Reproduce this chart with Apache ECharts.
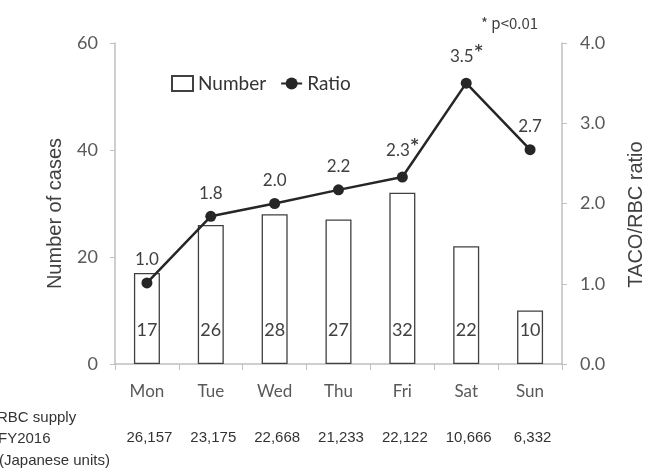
<!DOCTYPE html>
<html>
<head>
<meta charset="utf-8">
<script src="https://cdn.jsdelivr.net/npm/echarts@6/dist/echarts.min.js"></script>
<style>
  html, body { margin: 0; padding: 0; background: #fff; }
  #chart { width: 647px; height: 472px; }
</style>
</head>
<body>
<div id="chart"></div>
<script>
const days = ["Mon", "Tue", "Wed", "Thu", "Fri", "Sat", "Sun"];
const cases = [17, 26, 28, 27, 32, 22, 10];
const ratio = [1.01, 1.84, 2.0, 2.17, 2.33, 3.5, 2.67];
const ratioLabels = ["1.0", "1.8", "2.0", "2.2", "2.3", "3.5", "2.7"];
const significant = [false, false, false, false, true, true, false];
const supply = ["26,157", "23,175", "22,668", "21,233", "22,122", "10,666", "6,332"];
const leftTicks = [0, 20, 40, 60];
const rightTicks = [0, 1, 2, 3, 4];

const chart = echarts.init(document.getElementById("chart"));
const gray = "#bfbfbf";
const textColor = "#595959";

const option = {
  animation: false,
  backgroundColor: "#fff",
  grid: { left: 115, right: 85, top: 43, bottom: 108, outerBoundsMode: "none" },
  legend: {
    left: 166,
    top: 69,
    itemWidth: 21,
    itemHeight: 15,
    itemGap: 14,
    textStyle: { fontFamily: "Lato", fontSize: 19, color: "#333" },
    data: [{ name: "Number", icon: "rect" }, "Ratio"]
  },
  xAxis: [
    {
      type: "category",
      data: days,
      axisLine: { lineStyle: { color: gray, width: 1.5 } },
      axisTick: { show: true, length: 6, lineStyle: { color: gray } },
      axisLabel: { color: textColor, fontFamily: "Lato", fontSize: 17, margin: 19 }
    },
    {
      type: "category",
      data: supply,
      position: "bottom",
      offset: 66,
      axisLine: { show: false },
      axisTick: { show: false },
      axisLabel: { color: "#333", fontFamily: "Liberation Sans", fontSize: 15, margin: 0,
        padding: [0, 0, 0, 5] }
    }
  ],
  yAxis: [
    {
      type: "value",
      min: leftTicks[0],
      max: leftTicks[leftTicks.length - 1],
      interval: 20,
      name: "Number of cases",
      nameLocation: "middle",
      nameGap: 50,
      nameTextStyle: { fontFamily: "Liberation Sans", fontSize: 20, color: "#404040",
        padding: [0, 20, 0, 0] },
      splitLine: { show: false },
      axisLine: { show: true, lineStyle: { color: gray, width: 1.5 } },
      axisTick: { show: true, length: 5, lineStyle: { color: gray } },
      axisLabel: { color: textColor, fontFamily: "Lato", fontSize: 18, margin: 17 }
    },
    {
      type: "value",
      min: rightTicks[0],
      max: rightTicks[rightTicks.length - 1],
      interval: 1,
      name: "TACO/RBC ratio",
      nameLocation: "middle",
      nameGap: 64,
      nameRotate: 90,
      nameTextStyle: { fontFamily: "Liberation Sans", fontSize: 20, color: "#404040",
        padding: [0, 22, 0, 0] },
      splitLine: { show: false },
      axisLine: { show: true, lineStyle: { color: gray, width: 1.5 } },
      axisTick: { show: true, length: 5, lineStyle: { color: gray } },
      axisLabel: {
        color: textColor, fontFamily: "Lato", fontSize: 18, margin: 18,
        formatter: (v) => v.toFixed(1)
      }
    }
  ],
  series: [
    {
      name: "Number",
      type: "bar",
      data: cases,
      barWidth: 26,
      itemStyle: { color: "#fff", borderColor: "#404040", borderWidth: 1.3 },
      label: {
        show: true,
        position: "insideBottom",
        distance: 25,
        fontFamily: "Lato",
        fontSize: 18,
        color: "#404040"
      }
    },
    {
      name: "Ratio",
      type: "line",
      yAxisIndex: 1,
      data: ratio,
      symbol: "circle",
      symbolSize: 11,
      lineStyle: { color: "#262626", width: 2.5 },
      itemStyle: { color: "#262626" },
      label: {
        show: true,
        position: "top",
        distance: 9,
        formatter: (p) => significant[p.dataIndex]
          ? "{v|" + ratioLabels[p.dataIndex] + "}{s|*}"
          : "{v|" + ratioLabels[p.dataIndex] + "}",
        rich: {
          v: { fontFamily: "Lato", fontSize: 17, color: "#404040" },
          s: { fontFamily: "DejaVu Sans", fontSize: 15, fontWeight: "bold", color: "#404040",
            padding: [0, 0, 9, 1] }
        }
      },
      z: 5
    }
  ],
  graphic: [
    {
      type: "text", left: 481, top: 16,
      style: { text: "* p<0.01", fontFamily: "Noto Sans CJK JP", fontSize: 15, fill: "#404040" }
    },
    {
      type: "text", left: -3, top: 410,
      style: { text: "RBC supply", fontFamily: "Liberation Sans", fontSize: 15, fill: "#333" }
    },
    {
      type: "text", left: -2, top: 431,
      style: { text: "FY2016", fontFamily: "Liberation Sans", fontSize: 15, fill: "#333" }
    },
    {
      type: "text", left: -1, top: 453,
      style: { text: "(Japanese units)", fontFamily: "Liberation Sans", fontSize: 15, fill: "#333" }
    }
  ]
};

chart.setOption(option);
</script>
</body>
</html>
